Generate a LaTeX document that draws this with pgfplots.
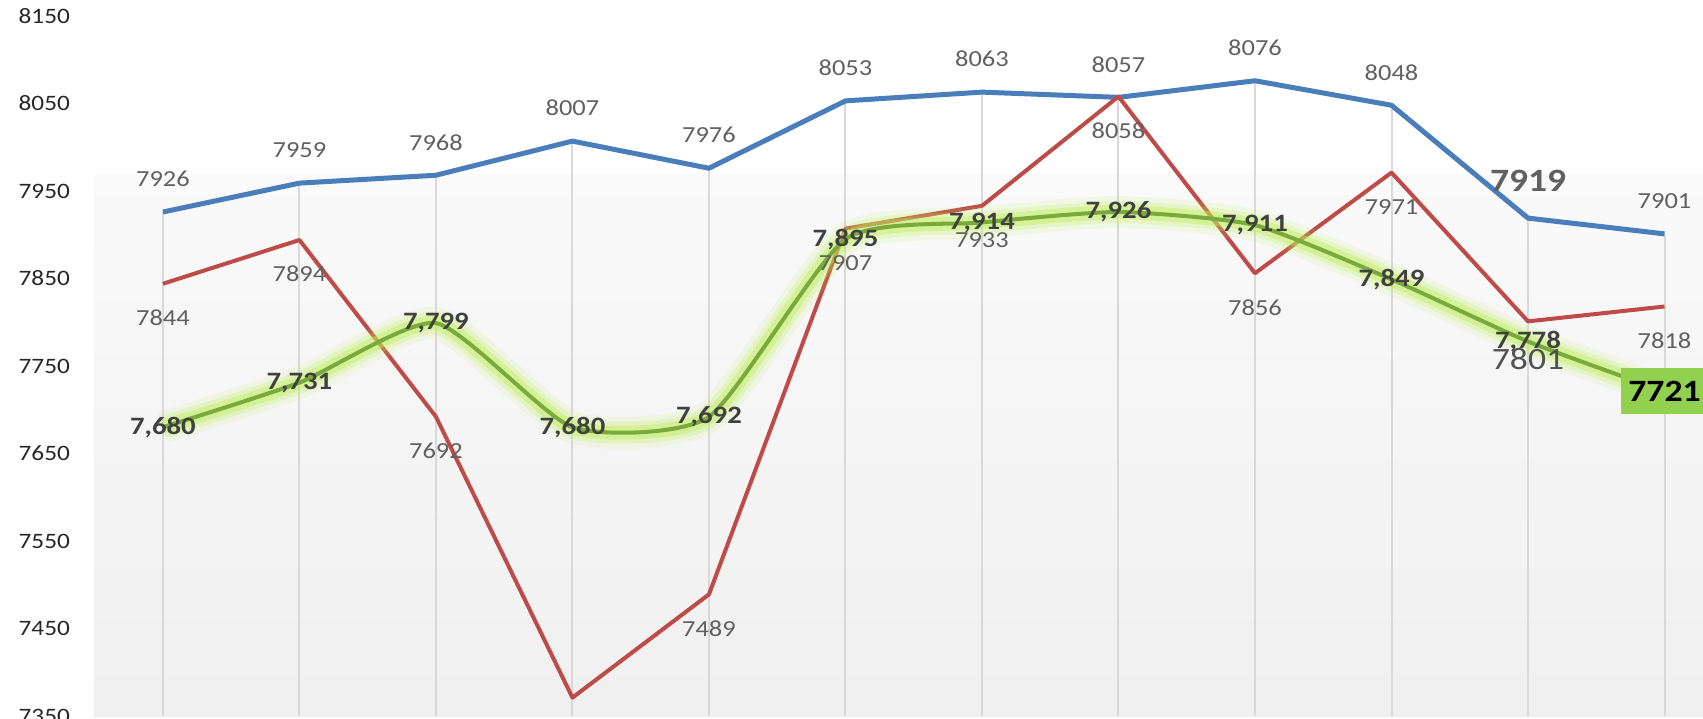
\documentclass[border=0pt]{standalone}
\usepackage{fontspec}
\setmainfont{Carlito}[FakeStretch=1.15]
\usepackage{pgfplots}
\usepackage{pgfplotstable}
\pgfplotsset{compat=1.18}

\definecolor{lineblue}{RGB}{74,126,187}
\definecolor{linered}{RGB}{190,75,72}
\definecolor{linegreen}{RGB}{120,170,60}
\definecolor{glowgreen}{RGB}{190,238,85}
\definecolor{boxgreen}{RGB}{146,208,80}
\definecolor{gridgray}{RGB}{217,217,217}
\definecolor{labgray}{RGB}{96,96,96}
\definecolor{grnlab}{RGB}{64,64,64}

% x = position, blue / red / green series
\pgfplotstableread{
x blue red green
0 7926 7844 7680
1 7959 7894 7731
2 7968 7692 7799
3 8007 7371 7680
4 7976 7489 7692
5 8053 7907 7895
6 8063 7933 7914
7 8057 8058 7926
8 8076 7856 7911
9 8048 7971 7849
10 7919 7801 7778
11 7901 7818 7721
}\data

\newcommand{\fs}[1]{\fontsize{#1}{#1}\selectfont}

\begin{document}
\begin{tikzpicture}
\path[use as bounding box, clip] (-47pt,-1pt) rectangle (804.5pt,358pt);
\begin{axis}[
    at={(0,0)}, anchor=south west,
    scale only axis,
    width=804.5pt, height=350pt,
    xmin=-0.505, xmax=11.282,
    ymin=7350, ymax=8150,
    ytick={7350,7450,...,8150},
    xtick=\empty,
    axis x line*=bottom, axis y line*=left,
    x axis line style={-, draw=gridgray, line width=1pt},
    y axis line style={draw=none},
    major tick length=0pt,
    /pgf/number format/1000 sep={},
    /pgf/number format/assume math mode=true,
    yticklabel style={font=\fs{11}, text=black!85, anchor=east, xshift=-8.5pt},
    line join=round,
]
    % plot area background
    \fill[top color=black!2, bottom color=black!6]
        (axis cs:-0.505,7350) rectangle (axis cs:11.282,7969);

    % drop lines from the upper series
    \addplot[ycomb, draw=gridgray, line width=1pt, mark=none]
        table[x=x, y=blue] {\data};

    \addplot[lineblue, line width=2.5pt, mark=none] table[x=x, y=blue] {\data};
    \addplot[linered, line width=2pt, mark=none] table[x=x, y=red] {\data};

    % green series with glow
    \addplot[glowgreen, line width=16pt, opacity=0.12, smooth, tension=0.35, mark=none]
        table[x=x, y=green] {\data};
    \addplot[glowgreen, line width=11pt, opacity=0.22, smooth, tension=0.35, mark=none]
        table[x=x, y=green] {\data};
    \addplot[glowgreen, line width=7pt, opacity=0.4, smooth, tension=0.35, mark=none]
        table[x=x, y=green] {\data};
    \addplot[linegreen, line width=2pt, smooth, tension=0.35, mark=none]
        table[x=x, y=green] {\data};

    % green labels
    \addplot[draw=none, mark=none, skip coords between index={11}{12},
        nodes near coords={\pgfmathprintnumber[1000 sep={,}]{\pgfplotspointmeta}},
        every node near coord/.append style={anchor=center, font=\bfseries\fs{12.5}, text=grnlab}]
        table[x=x, y=green] {\data};
    \addplot[draw=none, mark=none, nodes near coords,
        every node near coord/.append style={anchor=center, font=\bfseries\fs{15.5}, text=black,
            fill=boxgreen, inner xsep=3.5pt, minimum height=23pt}]
        coordinates {(11,7721)};

    % blue labels
    \addplot[draw=none, mark=none, skip coords between index={10}{11}, nodes near coords,
        every node near coord/.append style={anchor=center, yshift=16.5pt, font=\fs{11.5}, text=labgray}]
        table[x=x, y=blue] {\data};
    \addplot[draw=none, mark=none, nodes near coords,
        every node near coord/.append style={anchor=center, yshift=18.5pt, font=\bfseries\fs{16.3}, text=labgray}]
        coordinates {(10,7919)};

    % red labels
    \addplot[draw=none, mark=none, skip coords between index={3}{4},
        skip coords between index={10}{11}, nodes near coords,
        every node near coord/.append style={anchor=center, yshift=-17pt, font=\fs{11.5}, text=labgray}]
        table[x=x, y=red] {\data};
    \addplot[draw=none, mark=none, nodes near coords,
        every node near coord/.append style={anchor=center, yshift=-19pt, font=\fs{15.5}, text=black!68}]
        coordinates {(10,7801)};
\end{axis}
\end{tikzpicture}
\end{document}
